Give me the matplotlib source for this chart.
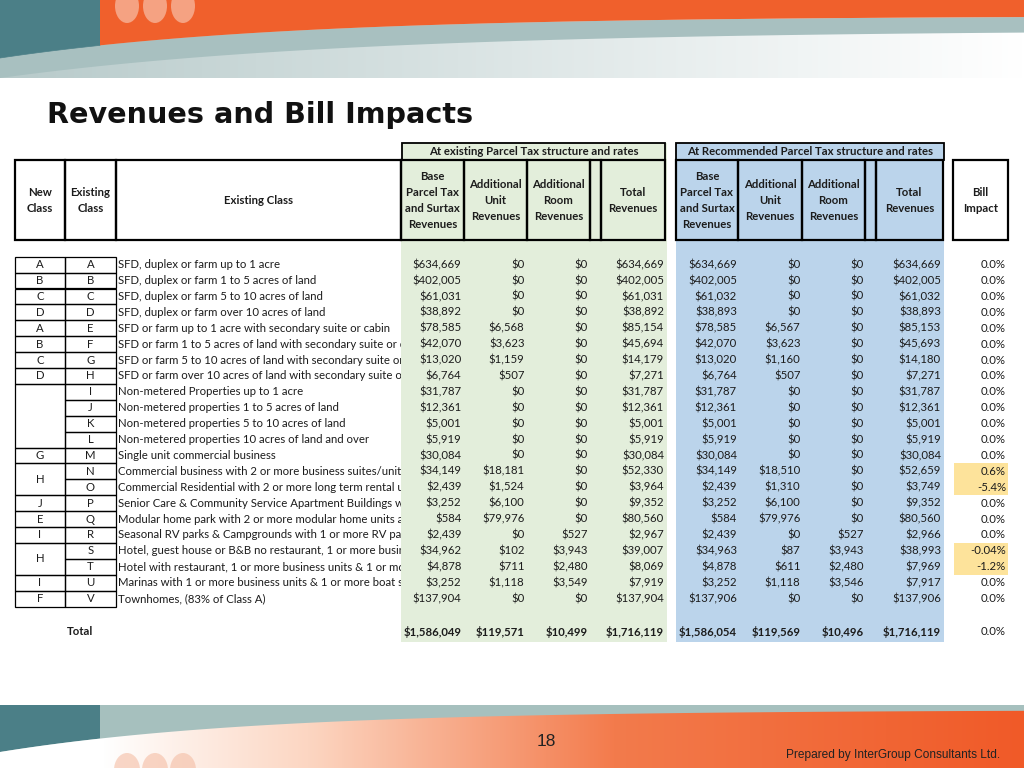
import numpy as np
import matplotlib
matplotlib.use("Agg")
from matplotlib import pyplot as plt
from matplotlib.patches import Rectangle, Polygon, Ellipse
from matplotlib.colors import to_rgb

# ---- table data -------------------------------------------------------------
new_class_groups = [("A", 1), ("B", 1), ("C", 1), ("D", 1), ("A", 1), ("B", 1),
                    ("C", 1), ("D", 1), ("", 4), ("G", 1), ("H", 2), ("J", 1),
                    ("E", 1), ("I", 1), ("H", 2), ("I", 1), ("F", 1)]
existing_class = list("ABCDEFGHIJKLMNOPQRSTUV")
# descriptions as far as they are visible (the rest is hidden behind the columns)
descriptions = [
    "SFD, duplex or farm up to 1 acre",
    "SFD, duplex or farm 1 to 5 acres of land",
    "SFD, duplex or farm 5 to 10 acres of land",
    "SFD, duplex or farm over 10 acres of land",
    "SFD or farm up to 1 acre with secondary suite or cabin",
    "SFD or farm 1 to 5 acres of land with secondary suite or ca",
    "SFD or farm 5 to 10 acres of land with secondary suite or c",
    "SFD or farm over 10 acres of land with secondary suite or",
    "Non-metered Properties up to 1 acre",
    "Non-metered properties 1 to 5 acres of land",
    "Non-metered properties 5 to 10 acres of land",
    "Non-metered properties 10 acres of land and over",
    "Single unit commercial business",
    "Commercial business with 2 or more business suites/units",
    "Commercial Residential with 2 or more long term rental u",
    "Senior Care & Community Service Apartment Buildings wi",
    "Modular home park with 2 or more modular home units a",
    "Seasonal RV parks & Campgrounds with 1 or more RV pad",
    "Hotel, guest house or B&B no restaurant, 1 or more busin",
    "Hotel with restaurant, 1 or more business units & 1 or mo",
    "Marinas with 1 or more business units & 1 or more boat s",
    "Townhomes, (83% of Class A)",
]
ex_base = [634669, 402005, 61031, 38892, 78585, 42070, 13020, 6764, 31787, 12361, 5001,
           5919, 30084, 34149, 2439, 3252, 584, 2439, 34962, 4878, 3252, 137904]
ex_unit = [0, 0, 0, 0, 6568, 3623, 1159, 507, 0, 0, 0, 0, 0, 18181, 1524, 6100, 79976,
           0, 102, 711, 1118, 0]
ex_room = [0, 0, 0, 0, 0, 0, 0, 0, 0, 0, 0, 0, 0, 0, 0, 0, 0, 527, 3943, 2480, 3549, 0]
ex_total = [634669, 402005, 61031, 38892, 85154, 45694, 14179, 7271, 31787, 12361, 5001,
            5919, 30084, 52330, 3964, 9352, 80560, 2967, 39007, 8069, 7919, 137904]
rec_base = [634669, 402005, 61032, 38893, 78585, 42070, 13020, 6764, 31787, 12361, 5001,
            5919, 30084, 34149, 2439, 3252, 584, 2439, 34963, 4878, 3252, 137906]
rec_unit = [0, 0, 0, 0, 6567, 3623, 1160, 507, 0, 0, 0, 0, 0, 18510, 1310, 6100, 79976,
            0, 87, 611, 1118, 0]
rec_room = [0, 0, 0, 0, 0, 0, 0, 0, 0, 0, 0, 0, 0, 0, 0, 0, 0, 527, 3943, 2480, 3546, 0]
rec_total = [634669, 402005, 61032, 38893, 85153, 45693, 14180, 7271, 31787, 12361, 5001,
             5919, 30084, 52659, 3749, 9352, 80560, 2966, 38993, 7969, 7917, 137906]
bill_impact = [0.0] * 13 + [0.6, -5.4] + [0.0] * 3 + [-0.04, -1.2] + [0.0] * 2
totals_existing = [1586049, 119571, 10499, 1716119]
totals_recommended = [1586054, 119569, 10496, 1716119]
total_impact = 0.0

# ---- styles -----------------------------------------------------------------
GREEN = "#e3eedb"
BLUE = "#bbd4eb"
YELLOW = "#fde39b"
TXT = "#1c1c1c"
FONT = ["Lato", "DejaVu Sans"]
FS = 8.2

fig = plt.figure(figsize=(10.24, 7.68), dpi=100)
ax = fig.add_axes([0, 0, 1, 1])
ax.set_xlim(0, 1024)
ax.set_ylim(768, 0)
ax.axis("off")


def fmt_money(v):
    return "${:,.0f}".format(v)


def fmt_pct(v):
    if v != 0 and abs(v) < 0.05:
        return "{:.2f}%".format(v)
    return "{:.1f}%".format(v)


def hgrad(stops, n=512):
    xs = np.linspace(0, 1, n)
    pos = [s[0] for s in stops]
    cols = np.array([to_rgb(s[1]) for s in stops])
    img = np.stack([np.interp(xs, pos, cols[:, k]) for k in range(3)], axis=-1)
    return img[np.newaxis, :, :]


# ---- top banner -------------------------------------------------------------
xs = np.linspace(0, 1024, 257)
xl = xs[xs <= 100]
xr = np.r_[100, xs[xs > 100]]


def c1(x):
    return 16 + 42 * np.exp(-x / 280)


def c2(x):
    return 30 + 48 * np.exp(-x / 350)


ax.imshow(hgrad([(0, "#b7caca"), (0.5, "#dde6e6"), (1, "#ffffff")]),
          extent=(0, 1024, 78, 0), aspect="auto", zorder=0)
ax.add_patch(Polygon(np.column_stack([np.r_[xs, xs[::-1]], np.r_[c1(xs), c2(xs[::-1])]]),
                     closed=True, fc="#a8c0c0", ec="none", zorder=1))
ax.add_patch(Polygon(np.column_stack([np.r_[0, xl, 100, 100], np.r_[0, c1(xl), c1(100), 0]]),
                     closed=True, fc="#4b7f87", ec="#4b7f87", lw=0.5, zorder=2))
orange = Polygon(np.column_stack([np.r_[100, xr, 1024], np.r_[0, c1(xr), 0]]),
                 closed=True, fc="#f0602c", ec="none", zorder=2)
ax.add_patch(orange)
for cx in (127, 155, 183):
    e = Ellipse((cx, 6), 24, 34, fc="#f5a282", ec="none", zorder=3)
    ax.add_patch(e)
    e.set_clip_path(orange)

# ---- bottom banner ----------------------------------------------------------
def wv(x):
    return 710 + 42 * np.exp(-x / 260)


ax.add_patch(Rectangle((0, 705), 1024, 63, fc="#a6c0be", ec="none", zorder=1))
ax.add_patch(Polygon(np.column_stack([np.r_[0, xl, 100, 100], np.r_[705, wv(xl), wv(100), 705]]),
                     closed=True, fc="#4b7f87", ec="none", zorder=2))
wave = Polygon(np.column_stack([np.r_[0, xs, 1024], np.r_[768, wv(xs), 768]]),
               closed=True, fc="none", ec="none", zorder=2)
ax.add_patch(wave)
gimg = ax.imshow(hgrad([(0, "#ffffff"), (0.1, "#ffffff"), (0.3, "#fcd6c2"),
                        (0.6, "#f37b4c"), (1, "#f05a28")]),
                 extent=(0, 1024, 768, 705), aspect="auto", zorder=2)
gimg.set_clip_path(wave)
for cx in (127, 155, 183):
    e = Ellipse((cx, 770), 26, 34, fc="#f4bda4", ec="none", alpha=0.6, zorder=3)
    ax.add_patch(e)
    e.set_clip_path(wave)
ax.set_xlim(0, 1024)
ax.set_ylim(768, 0)

ax.text(546, 741, "18", ha="center", va="center", fontsize=12.5,
        family=["Liberation Sans", "DejaVu Sans"], color="#222222", zorder=5)
ax.text(1000, 755, "Prepared by InterGroup Consultants Ltd.", ha="right", va="center",
        fontsize=8.6, family=["Liberation Sans", "DejaVu Sans"], color="#222222", zorder=5)

# ---- title ------------------------------------------------------------------
ax.text(47, 115, "Revenues and Bill Impacts", ha="left", va="center", fontsize=20.6,
        fontweight="bold", family=["DejaVu Sans"], color="#111111")

# ---- table layout -----------------------------------------------------------
HDR_TOP, HDR_BOT = 160, 240
ROW0, ROWH = 256.7, 15.9
n_rows = len(existing_class)
TOTAL_Y = 631.5
BG_TOP, BG_BOT = 143, 642

ax.add_patch(Rectangle((401, BG_TOP), 266, BG_BOT - BG_TOP, fc=GREEN, ec="none", zorder=2))
ax.add_patch(Rectangle((676, BG_TOP), 268, BG_BOT - BG_TOP, fc=BLUE, ec="none", zorder=2))

# group titles
for x0, x1, label in [(402, 665, "At existing Parcel Tax structure and rates"),
                      (676, 944, "At Recommended Parcel Tax structure and rates")]:
    ax.add_patch(Rectangle((x0, 143), x1 - x0, 17, fc="none", ec="black", lw=1.3, zorder=4))
    ax.text((x0 + x1) / 2, 151.5, label, ha="center", va="center", fontsize=FS,
            fontweight="bold", family=FONT, color=TXT, zorder=5)

header_cols = [
    (15, 65, ["New", "Class"]),
    (65, 116, ["Existing", "Class"]),
    (116, 401, ["Existing Class"]),
    (401, 464, ["Base", "Parcel Tax", "and Surtax", "Revenues"]),
    (464, 527, ["Additional", "Unit", "Revenues"]),
    (527, 590, ["Additional", "Room", "Revenues"]),
    (590, 601, []),
    (601, 665, ["Total", "Revenues"]),
    (676, 738, ["Base", "Parcel Tax", "and Surtax", "Revenues"]),
    (738, 802, ["Additional", "Unit", "Revenues"]),
    (802, 865, ["Additional", "Room", "Revenues"]),
    (865, 876, []),
    (876, 943, ["Total", "Revenues"]),
    (953, 1008, ["Bill", "Impact"]),
]
hc = (HDR_TOP + HDR_BOT) / 2
for x0, x1, lines in header_cols:
    ax.add_patch(Rectangle((x0, HDR_TOP), x1 - x0, HDR_BOT - HDR_TOP, fc="none",
                           ec="black", lw=1.6, zorder=4))
    n = len(lines)
    for i, ln in enumerate(lines):
        ax.text((x0 + x1) / 2, hc + (i - (n - 1) / 2) * 16, ln, ha="center", va="center",
                fontsize=FS, fontweight="bold", family=FONT, color=TXT, zorder=5)

# left class boxes
r = 0
for label, span in new_class_groups:
    y0 = ROW0 + r * ROWH
    ax.add_patch(Rectangle((15, y0), 50, span * ROWH, fc="none", ec="black", lw=0.9, zorder=4))
    ax.text(40, y0 + span * ROWH / 2, label, ha="center", va="center", fontsize=FS,
            family=FONT, color=TXT, zorder=5)
    r += span

row_y = ROW0 + (np.arange(n_rows) + 0.5) * ROWH
for i in range(n_rows):
    y0 = ROW0 + i * ROWH
    ax.add_patch(Rectangle((65, y0), 51, ROWH, fc="none", ec="black", lw=0.9, zorder=4))
    ax.text(90.5, row_y[i], existing_class[i], ha="center", va="center", fontsize=FS,
            family=FONT, color=TXT, zorder=5)
    ax.text(118, row_y[i], descriptions[i], ha="left", va="center", fontsize=FS,
            family=FONT, color=TXT, zorder=1)

# numeric columns: right edges
num_cols = [(461.5, ex_base), (524.5, ex_unit), (588, ex_room), (664, ex_total),
            (737, rec_base), (800.5, rec_unit), (863.5, rec_room), (941, rec_total)]
for xr_, vals in num_cols:
    for i, v in enumerate(vals):
        ax.text(xr_, row_y[i], fmt_money(v), ha="right", va="center", fontsize=FS,
                family=FONT, color=TXT, zorder=5)

for i, v in enumerate(bill_impact):
    if v != 0:
        ax.add_patch(Rectangle((954, ROW0 + i * ROWH), 54, ROWH, fc=YELLOW, ec="none", zorder=3))
    ax.text(1006, row_y[i], fmt_pct(v), ha="right", va="center", fontsize=FS,
            family=FONT, color=TXT, zorder=5)

# totals row
ax.text(67, TOTAL_Y, "Total", ha="left", va="center", fontsize=FS, fontweight="bold",
        family=FONT, color=TXT, zorder=5)
for (xr_, _), v in zip(num_cols, totals_existing + totals_recommended):
    ax.text(xr_, TOTAL_Y, fmt_money(v), ha="right", va="center", fontsize=FS,
            fontweight="bold", family=FONT, color=TXT, zorder=5)
ax.text(1006, TOTAL_Y, fmt_pct(total_impact), ha="right", va="center", fontsize=FS,
        family=FONT, color=TXT, zorder=5)

fig.savefig("out.png", dpi=100)
